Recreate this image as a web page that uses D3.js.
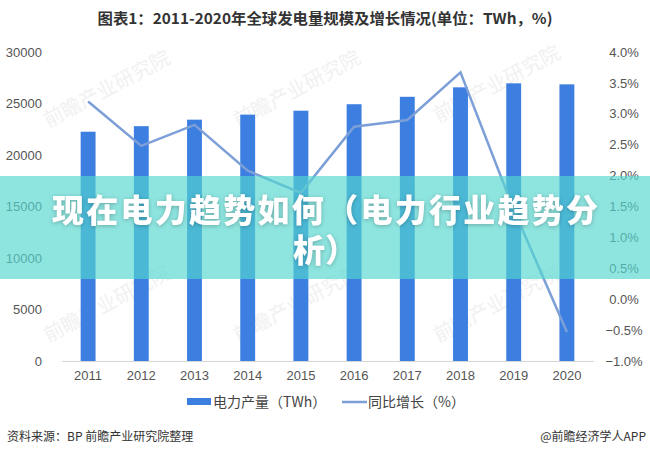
<!DOCTYPE html>
<html>
<head>
<meta charset="utf-8">
<script src="https://cdn.jsdelivr.net/npm/d3@7"></script>
<style>
  body { margin: 0; background: #fff; }
  svg { display: block; font-family: "Liberation Sans", "Noto Sans CJK SC", sans-serif; }
</style>
</head>
<body>
<div id="chart"></div>
<script>
// data ---------------------------------------------------------------
const years = ["2011","2012","2013","2014","2015","2016","2017","2018","2019","2020"]
const output = [22260, 22800, 23430, 23920, 24300, 24930, 25650, 26570, 26960, 26860] // TWh
const growth = [3.2, 2.48, 2.82, 2.08, 1.72, 2.79, 2.9, 3.67, 1.45, -0.53] // %
const leftTicks = [0, 5000, 10000, 15000, 20000, 25000, 30000]
const rightTicks = [-1, -0.5, 0, 0.5, 1, 1.5, 2, 2.5, 3, 3.5, 4]

const width = 650,
      height = 456,
      plotTop = 52,
      plotBottom = 361,
      barColor = "#3d7fe0",
      lineColor = "#7c9fd8",
      textColor = "#555"

const svg = d3.select("#chart").append("svg")
  .attr("width", width)
  .attr("height", height)

// scales
const x = d3.scaleBand().domain(years).range([61.5, 593.5]).paddingInner(0.72).paddingOuter(0.36)
const yLeft = d3.scaleLinear().domain([0, 30000]).range([plotBottom, plotTop])
const yRight = d3.scaleLinear().domain([-1, 4]).range([plotBottom, plotTop])
const cx = d => x(d) + x.bandwidth() / 2

// faint watermarks
const marks = [[110, 95], [300, 95], [500, 90], [110, 310], [300, 310], [500, 310]]
svg.append("g").selectAll("text").data(marks).enter().append("text")
  .attr("transform", d => `translate(${d[0]},${d[1]}) rotate(-28)`)
  .attr("text-anchor", "middle")
  .attr("font-family", "Noto Sans CJK SC")
  .attr("font-size", 20)
  .attr("fill", "#f1f1f1")
  .text("前瞻产业研究院")

// title
svg.append("text")
  .attr("x", 325).attr("y", 24)
  .attr("text-anchor", "middle")
  .attr("font-family", "Noto Sans CJK SC")
  .attr("font-weight", "bold")
  .attr("font-size", 15)
  .attr("fill", "#333")
  .attr("textLength", 455)
  .attr("lengthAdjust", "spacingAndGlyphs")
  .text("图表1：2011-2020年全球发电量规模及增长情况(单位：TWh，%)")

// axes
const leftAxis = svg.append("g")
  .attr("transform", "translate(42,0)")
  .call(d3.axisLeft(yLeft).tickValues(leftTicks).tickSize(0).tickPadding(0).tickFormat(d3.format("d")))
leftAxis.select(".domain").remove()

const rightAxis = svg.append("g")
  .attr("transform", "translate(624,0)")
  .call(d3.axisRight(yRight).tickValues(rightTicks).tickSize(0).tickPadding(0)
    .tickFormat(d => (d < 0 ? "−" : "") + Math.abs(d).toFixed(1) + "%"))
rightAxis.select(".domain").remove()
rightAxis.selectAll("text").attr("text-anchor", "middle")

const bottomAxis = svg.append("g")
  .attr("transform", `translate(0,${plotBottom})`)
  .call(d3.axisBottom(x).tickSize(0).tickPadding(10))
bottomAxis.select(".domain").attr("stroke", "#d6d6d6")

svg.selectAll(".tick text")
  .attr("font-size", 13)
  .attr("fill", textColor)
  .attr("font-family", "Liberation Sans, sans-serif")

// bars
svg.append("g").selectAll("rect").data(years).enter().append("rect")
  .attr("x", d => x(d))
  .attr("width", x.bandwidth())
  .attr("y", (d, i) => yLeft(output[i]))
  .attr("height", (d, i) => plotBottom - yLeft(output[i]))
  .attr("fill", barColor)

// growth line
const line = d3.line()
  .x(d => cx(d[0]))
  .y(d => yRight(d[1]))
svg.append("path")
  .datum(d3.zip(years, growth))
  .attr("d", line)
  .attr("fill", "none")
  .attr("stroke", lineColor)
  .attr("stroke-width", 2.5)

// legend
const legend = svg.append("g").attr("font-family", "Noto Sans CJK SC").attr("font-size", 14).attr("fill", "#444")
legend.append("rect").attr("x", 187).attr("y", 398).attr("width", 24).attr("height", 7).attr("fill", barColor)
legend.append("text").attr("x", 213).attr("y", 407).text("电力产量（TWh）")
legend.append("line").attr("x1", 342).attr("x2", 367).attr("y1", 402).attr("y2", 402)
  .attr("stroke", lineColor).attr("stroke-width", 2.5)
legend.append("text").attr("x", 368).attr("y", 407).text("同比增长（%）")

// footer
svg.append("text").attr("x", 7).attr("y", 441)
  .attr("font-family", "Noto Sans CJK SC").attr("font-size", 12).attr("fill", "#333")
  .text("资料来源：BP 前瞻产业研究院整理")
svg.append("text").attr("x", 646).attr("y", 441).attr("text-anchor", "end")
  .attr("font-family", "Noto Sans CJK SC").attr("font-size", 12).attr("fill", "#333")
  .text("@前瞻经济学人APP")

// overlay banner
svg.append("rect")
  .attr("x", 0).attr("y", 176).attr("width", width).attr("height", 103)
  .attr("fill", "rgb(84,215,208)").attr("fill-opacity", 0.66)

const banner = svg.append("g")
  .attr("font-family", "Noto Sans CJK SC")
  .attr("font-weight", 900)
  .attr("font-size", 32)
  .attr("fill", "#fff")
  .attr("text-anchor", "middle")
  .style("filter", "drop-shadow(0px 1px 2px rgba(0,0,0,0.25))")
banner.append("text").attr("x", 325).attr("y", 222).attr("textLength", 546).attr("lengthAdjust", "spacing")
  .text("现在电力趋势如何（电力行业趋势分")
banner.append("text").attr("x", 325).attr("y", 262).text("析）")
</script>
</body>
</html>
